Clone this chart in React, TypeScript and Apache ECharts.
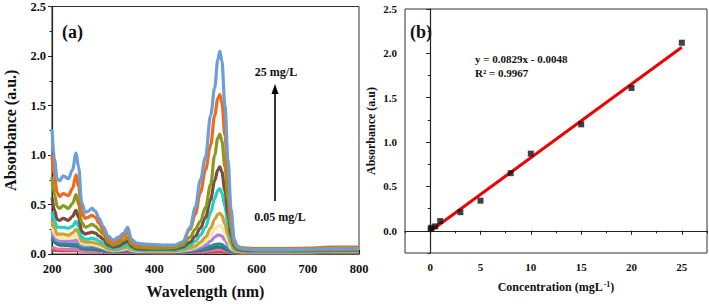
import React, { useEffect, useRef } from "react";
import * as echarts from "echarts";

const FONT = '"Liberation Serif", "Times New Roman", serif';

// ---- Panel (a): UV-Vis spectra ----
const wavelengths = [200, 205, 210, 215, 222, 232, 240, 247, 252, 258, 265, 270, 278, 285, 292, 300, 310, 320, 330, 340, 348, 355, 365, 380, 400, 420, 440, 455, 470, 480, 490, 500, 510, 518, 524, 528, 532, 538, 544, 550, 556, 562, 570, 580, 600, 650, 700, 750, 800];

const spec25 = [1.26, 0.95, 0.76, 0.74, 0.79, 0.76, 0.85, 1.02, 0.88, 0.52, 0.42, 0.43, 0.46, 0.43, 0.36, 0.28, 0.18, 0.14, 0.17, 0.21, 0.27, 0.15, 0.11, 0.1, 0.095, 0.09, 0.09, 0.12, 0.27, 0.47, 0.75, 0.98, 1.4, 1.68, 1.96, 2.05, 1.95, 1.5, 0.95, 0.45, 0.15, 0.08, 0.06, 0.05, 0.045, 0.045, 0.05, 0.055, 0.055];
const spec20 = [1.0, 0.78, 0.62, 0.58, 0.61, 0.59, 0.66, 0.8, 0.68, 0.42, 0.36, 0.37, 0.39, 0.37, 0.31, 0.24, 0.15, 0.11, 0.14, 0.18, 0.22, 0.13, 0.09, 0.085, 0.08, 0.08, 0.085, 0.12, 0.25, 0.4, 0.62, 0.85, 1.1, 1.4, 1.57, 1.61, 1.53, 1.2, 0.75, 0.36, 0.13, 0.08, 0.065, 0.06, 0.055, 0.055, 0.06, 0.07, 0.07];
const spec15 = [0.78, 0.6, 0.48, 0.46, 0.49, 0.46, 0.51, 0.6, 0.5, 0.32, 0.27, 0.28, 0.3, 0.28, 0.24, 0.2, 0.12, 0.09, 0.11, 0.14, 0.17, 0.1, 0.07, 0.065, 0.06, 0.06, 0.065, 0.09, 0.17, 0.25, 0.33, 0.47, 0.7, 1.0, 1.17, 1.21, 1.14, 0.88, 0.55, 0.26, 0.1, 0.06, 0.05, 0.045, 0.04, 0.04, 0.04, 0.045, 0.045];
const spec10 = [0.57, 0.44, 0.35, 0.34, 0.36, 0.34, 0.38, 0.44, 0.37, 0.23, 0.2, 0.21, 0.22, 0.21, 0.18, 0.15, 0.09, 0.07, 0.08, 0.11, 0.13, 0.08, 0.055, 0.05, 0.05, 0.05, 0.05, 0.07, 0.12, 0.18, 0.26, 0.37, 0.55, 0.74, 0.85, 0.88, 0.83, 0.64, 0.4, 0.19, 0.08, 0.05, 0.04, 0.035, 0.035, 0.035, 0.035, 0.04, 0.04];
const spec8 = [0.43, 0.33, 0.27, 0.27, 0.27, 0.26, 0.28, 0.33, 0.28, 0.17, 0.15, 0.15, 0.16, 0.15, 0.13, 0.11, 0.07, 0.05, 0.06, 0.08, 0.1, 0.06, 0.045, 0.04, 0.04, 0.04, 0.04, 0.05, 0.09, 0.13, 0.19, 0.27, 0.42, 0.56, 0.64, 0.66, 0.62, 0.48, 0.3, 0.14, 0.06, 0.04, 0.035, 0.03, 0.03, 0.03, 0.03, 0.035, 0.035];
const spec5 = [0.34, 0.26, 0.2, 0.2, 0.2, 0.19, 0.21, 0.25, 0.21, 0.13, 0.12, 0.12, 0.12, 0.11, 0.1, 0.08, 0.05, 0.04, 0.045, 0.06, 0.07, 0.045, 0.035, 0.03, 0.03, 0.03, 0.03, 0.04, 0.06, 0.08, 0.12, 0.17, 0.26, 0.35, 0.4, 0.41, 0.39, 0.3, 0.19, 0.09, 0.04, 0.03, 0.025, 0.025, 0.025, 0.025, 0.025, 0.03, 0.03];
const spec3 = [0.28, 0.21, 0.17, 0.16, 0.16, 0.16, 0.17, 0.19, 0.16, 0.11, 0.1, 0.1, 0.1, 0.09, 0.08, 0.065, 0.045, 0.035, 0.04, 0.05, 0.06, 0.04, 0.03, 0.028, 0.027, 0.027, 0.028, 0.035, 0.05, 0.07, 0.09, 0.13, 0.19, 0.25, 0.28, 0.29, 0.27, 0.21, 0.13, 0.06, 0.035, 0.028, 0.025, 0.025, 0.025, 0.025, 0.025, 0.028, 0.028];
const spec1 = [0.23, 0.17, 0.14, 0.13, 0.13, 0.13, 0.13, 0.14, 0.12, 0.09, 0.085, 0.085, 0.09, 0.08, 0.07, 0.06, 0.04, 0.03, 0.035, 0.04, 0.05, 0.035, 0.028, 0.025, 0.025, 0.025, 0.025, 0.03, 0.04, 0.05, 0.07, 0.09, 0.13, 0.17, 0.19, 0.19, 0.18, 0.14, 0.09, 0.045, 0.03, 0.025, 0.022, 0.022, 0.022, 0.022, 0.022, 0.025, 0.025];
const spec05 = [0.17, 0.14, 0.12, 0.11, 0.11, 0.1, 0.1, 0.1, 0.09, 0.07, 0.065, 0.065, 0.065, 0.06, 0.055, 0.05, 0.035, 0.028, 0.03, 0.035, 0.04, 0.03, 0.025, 0.022, 0.022, 0.022, 0.022, 0.025, 0.03, 0.04, 0.05, 0.06, 0.08, 0.095, 0.1, 0.1, 0.095, 0.075, 0.05, 0.03, 0.022, 0.02, 0.02, 0.02, 0.02, 0.02, 0.02, 0.022, 0.022];
const spec01 = [0.15, 0.12, 0.1, 0.09, 0.09, 0.085, 0.08, 0.08, 0.07, 0.055, 0.05, 0.05, 0.05, 0.045, 0.04, 0.035, 0.028, 0.022, 0.024, 0.026, 0.03, 0.024, 0.02, 0.018, 0.018, 0.018, 0.018, 0.02, 0.025, 0.03, 0.035, 0.045, 0.055, 0.065, 0.07, 0.07, 0.066, 0.052, 0.036, 0.024, 0.018, 0.016, 0.016, 0.016, 0.016, 0.016, 0.016, 0.018, 0.018];
const spec008 = [0.07, 0.06, 0.05, 0.05, 0.05, 0.045, 0.045, 0.045, 0.04, 0.035, 0.03, 0.03, 0.03, 0.03, 0.028, 0.025, 0.02, 0.016, 0.017, 0.018, 0.02, 0.016, 0.014, 0.013, 0.013, 0.013, 0.013, 0.014, 0.017, 0.02, 0.024, 0.03, 0.036, 0.042, 0.045, 0.045, 0.043, 0.035, 0.025, 0.017, 0.013, 0.012, 0.012, 0.012, 0.012, 0.012, 0.012, 0.013, 0.013];
const spec005 = [0.04, 0.038, 0.036, 0.035, 0.035, 0.034, 0.034, 0.034, 0.033, 0.031, 0.03, 0.03, 0.029, 0.028, 0.026, 0.024, 0.02, 0.017, 0.017, 0.017, 0.018, 0.016, 0.014, 0.013, 0.012, 0.012, 0.012, 0.013, 0.015, 0.017, 0.019, 0.021, 0.023, 0.025, 0.026, 0.026, 0.025, 0.021, 0.017, 0.013, 0.011, 0.01, 0.01, 0.01, 0.01, 0.01, 0.01, 0.01, 0.01];

// drawn from lowest to highest concentration
const spectraNames = ["0.05 mg/L", "0.08 mg/L", "0.1 mg/L", "0.5 mg/L", "1 mg/L", "3 mg/L", "5 mg/L", "8 mg/L", "10 mg/L", "15 mg/L", "20 mg/L", "25 mg/L"];
const spectraValues = [spec005, spec008, spec01, spec05, spec1, spec3, spec5, spec8, spec10, spec15, spec20, spec25];
const spectraColors = ["#e0393b", "#d77aa8", "#3a6e96", "#249183", "#b27fe0", "#f6e8a6", "#cda22e", "#22cfc1", "#7d4b3e", "#8b9a1f", "#f06a1c", "#6b9fd6"];

// ---- Panel (b): calibration ----
const concentrations = [0.05, 0.1, 0.5, 1, 3, 5, 8, 10, 15, 20, 25];
const absorbances = [0.02, 0.035, 0.05, 0.11, 0.21, 0.34, 0.65, 0.87, 1.2, 1.61, 2.12];
const fitX = [0, 25];
const fitY = [-0.0048, 2.068];
const xTicksB = [0, 5, 10, 15, 20, 25];
const yTicksB = [0, 0.5, 1, 1.5, 2, 2.5];

export default function App() {
  const ref = useRef<HTMLDivElement>(null);

  useEffect(() => {
    document.body.style.margin = "0";
    const chart = echarts.init(ref.current as HTMLDivElement, null, { renderer: "svg" });

    const axisLine = { show: true, lineStyle: { color: "#222", width: 1.2 } };
    const labelStyle = (size: number) => ({
      fontFamily: FONT,
      fontWeight: "bold" as const,
      fontSize: size,
      color: "#111",
    });

    const spectraSeries = spectraValues.map((vals, k) => ({
      type: "line",
      name: spectraNames[k],
      xAxisIndex: 0,
      yAxisIndex: 0,
      data: wavelengths.map((w, i) => [w, vals[i]]),
      showSymbol: false,
      smooth: 0.35,
      smoothMonotone: "x",
      lineStyle: { color: spectraColors[k], width: 3.2 },
      itemStyle: { color: spectraColors[k] },
      z: 2 + k,
    }));

    const option: any = {
      animation: false,
      backgroundColor: "#fff",
      grid: [
        { left: 52, top: 6, width: 307, height: 248, show: true, borderColor: "#333", borderWidth: 1, backgroundColor: "transparent" },
        { left: 405, top: 9, width: 302, height: 244, show: true, borderColor: "#333", borderWidth: 1, backgroundColor: "transparent" },
      ],
      xAxis: [
        {
          type: "value",
          gridIndex: 0,
          min: 200,
          max: 800,
          interval: 100,
          axisLine,
          axisTick: { show: true, inside: true, length: 4, lineStyle: { color: "#222" } },
          minorTick: { show: true, splitNumber: 2, length: 3, lineStyle: { color: "#222" } },
          splitLine: { show: false },
          axisLabel: { ...labelStyle(12.5), margin: 8 },
          name: "Wavelength (nm)",
          nameLocation: "middle",
          nameGap: 29,
          nameTextStyle: labelStyle(16),
        },
        {
          type: "value",
          gridIndex: 1,
          min: -2.5,
          max: 27.5,
          axisLine,
          axisTick: { show: true, length: 4, customValues: xTicksB, lineStyle: { color: "#222" } },
          splitLine: { show: false },
          axisLabel: { ...labelStyle(11), margin: 8, customValues: xTicksB },
          name: "{a|Concentration (mgL}{s|-1}{a|)}",
          nameLocation: "middle",
          nameGap: 27,
          nameTextStyle: {
            rich: {
              a: { ...labelStyle(12) },
              s: { ...labelStyle(8), verticalAlign: "top", padding: [0, 0, 6, 1] },
            },
          },
        },
        {
          type: "value",
          gridIndex: 1,
          min: -2.5,
          max: 27.5,
          interval: 2.5,
          position: "bottom",
          axisLine: { show: false },
          axisTick: { show: true, length: 2.5, lineStyle: { color: "#222" } },
          axisLabel: { show: false },
          splitLine: { show: false },
        },
      ],
      yAxis: [
        {
          type: "value",
          gridIndex: 0,
          min: 0,
          max: 2.5,
          interval: 0.5,
          axisLine,
          axisTick: { show: true, length: 4, lineStyle: { color: "#222" } },
          minorTick: { show: true, splitNumber: 2, length: 2.5, lineStyle: { color: "#222" } },
          splitLine: { show: false },
          axisLabel: { ...labelStyle(12.5), margin: 6, formatter: (v: number) => v.toFixed(1) },
          name: "Absorbance (a.u.)",
          nameLocation: "middle",
          nameGap: 34,
          nameTextStyle: labelStyle(16),
        },
        {
          type: "value",
          gridIndex: 1,
          min: -0.25,
          max: 2.5,
          axisLine,
          axisTick: { show: true, length: 4, customValues: yTicksB, lineStyle: { color: "#222" } },
          splitLine: { show: false },
          axisLabel: { ...labelStyle(11), margin: 8, customValues: yTicksB, formatter: (v: number) => v.toFixed(1) },
          name: "Absorbance (a.u)",
          nameLocation: "middle",
          nameGap: 28,
          nameTextStyle: labelStyle(12),
        },
        {
          type: "value",
          gridIndex: 1,
          min: -0.25,
          max: 2.5,
          interval: 0.25,
          position: "left",
          axisLine: { show: false },
          axisTick: { show: true, length: 2.5, lineStyle: { color: "#222" } },
          axisLabel: { show: false },
          splitLine: { show: false },
        },
      ],
      series: [
        ...spectraSeries,
        {
          type: "line",
          name: "fit",
          xAxisIndex: 1,
          yAxisIndex: 1,
          data: fitX.map((x, i) => [x, fitY[i]]),
          showSymbol: false,
          lineStyle: { color: "#f00000", width: 3 },
          z: 3,
        },
        {
          type: "scatter",
          name: "data",
          xAxisIndex: 1,
          yAxisIndex: 1,
          data: concentrations.map((c, i) => [c, absorbances[i]]),
          symbol: "rect",
          symbolSize: 6,
          itemStyle: { color: "#111" },
          z: 4,
        },
      ],
      graphic: [
        { type: "text", x: 62, y: 32, style: { text: "(a)", font: `bold 18px ${FONT}`, fill: "#111", textVerticalAlign: "middle" } },
        { type: "text", x: 410, y: 32, style: { text: "(b)", font: `bold 18px ${FONT}`, fill: "#111", textVerticalAlign: "middle" } },
        { type: "text", x: 276, y: 72, style: { text: "25 mg/L", font: `bold 12px ${FONT}`, fill: "#111", textAlign: "center", textVerticalAlign: "middle" } },
        { type: "text", x: 280, y: 217, style: { text: "0.05 mg/L", font: `bold 12px ${FONT}`, fill: "#111", textAlign: "center", textVerticalAlign: "middle" } },
        { type: "line", shape: { x1: 275, y1: 201, x2: 275, y2: 92 }, style: { stroke: "#000", lineWidth: 1.6 } },
        { type: "polygon", shape: { points: [[271.5, 94], [278.5, 94], [275, 84]] }, style: { fill: "#000" } },
        { type: "text", x: 475, y: 59, style: { text: "y = 0.0829x - 0.0048", font: `bold 11px ${FONT}`, fill: "#111", textVerticalAlign: "middle" } },
        { type: "text", x: 475, y: 73, style: { text: "R² = 0.9967", font: `bold 11px ${FONT}`, fill: "#111", textVerticalAlign: "middle" } },
      ],
    };

    chart.setOption(option);
    return () => chart.dispose();
  }, []);

  return <div ref={ref} style={{ width: 709, height: 304 }} />;
}
